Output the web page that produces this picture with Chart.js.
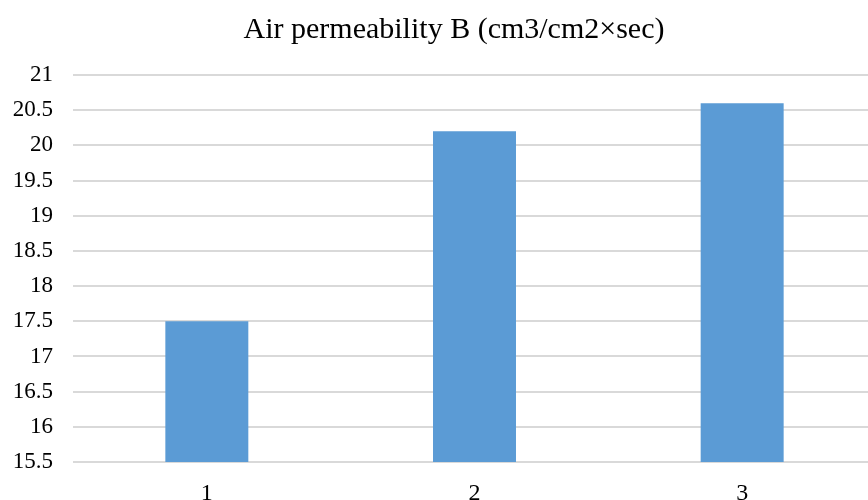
<!DOCTYPE html>
<html>
<head>
<meta charset="utf-8">
<script src="https://cdn.jsdelivr.net/npm/chart.js@4"></script>
<style>
  html, body { margin: 0; padding: 0; background: #fff; overflow: hidden; }
  #wrap { position: relative; width: 908px; height: 512px; }
</style>
</head>
<body>
<div id="wrap"><canvas id="bar-chart"></canvas></div>
<script>
// data
let categories = ["1", "2", "3"];
let permeability = [17.5, 20.2, 20.6];
let chartTitle = "Air permeability B (cm3/cm2\u00d7sec)";
let yMin = 15.5;
let yMax = 21;
let yStep = 0.5;

let serif = "'Liberation Serif', 'Times New Roman', serif";

var ctx = document.getElementById('bar-chart');
let myChart = new Chart(ctx, {
  type: 'bar',
  data: {
    labels: categories,
    datasets: [{
      label: "Air permeability B",
      data: permeability,
      backgroundColor: "#5b9bd5",
      borderWidth: 0,
      barPercentage: 0.31,
      categoryPercentage: 1
    }]
  },
  options: {
    responsive: true,
    maintainAspectRatio: false,
    animation: false,
    layout: { padding: { left: 0, right: 0, top: 0, bottom: 0 } },
    plugins: {
      legend: { display: false },
      tooltip: { enabled: false },
      title: {
        display: true,
        text: chartTitle,
        color: "#000",
        font: { family: serif, size: 30, weight: 'normal' },
        padding: { top: 12, bottom: 27 }
      }
    },
    scales: {
      x: {
        grid: { display: false, drawTicks: false },
        border: { display: false },
        ticks: { color: "#000", font: { family: serif, size: 24 }, padding: 17 },
        afterFit: function (s) { s.height = 50; }
      },
      y: {
        min: yMin,
        max: yMax,
        grid: { color: "#d9d9d9", lineWidth: 2, drawTicks: false },
        border: { display: false },
        ticks: {
          stepSize: yStep,
          color: "#000",
          font: { family: serif, size: 23 },
          padding: 20,
          callback: function (v) { return String(Math.round(v * 10) / 10); }
        },
        afterFit: function (s) { s.width = 73; }
      },
      y2: {
        position: 'right',
        display: true,
        grid: { display: false, drawTicks: false },
        border: { display: false },
        ticks: { display: false },
        afterFit: function (s) { s.width = 32; }
      }
    }
  }
});
</script>
</body>
</html>
